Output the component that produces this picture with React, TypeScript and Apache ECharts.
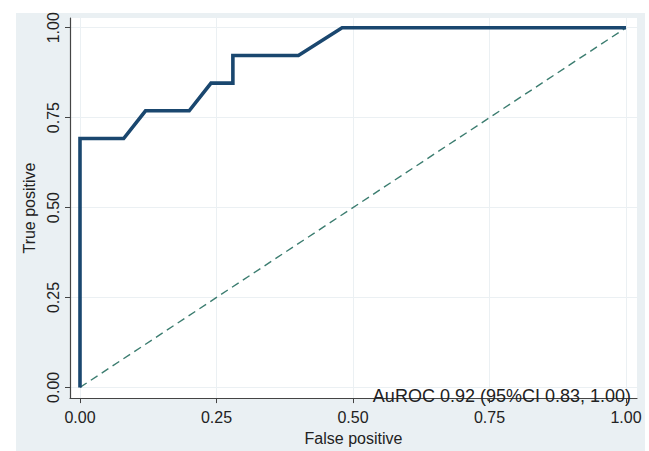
import React, { useEffect, useRef } from "react";
import * as echarts from "echarts";

const rocFpr = [0, 0, 0.08, 0.12, 0.2, 0.24, 0.28, 0.28, 0.4, 0.48, 1];
const rocTpr = [0, 0.692, 0.692, 0.769, 0.769, 0.846, 0.846, 0.923, 0.923, 1, 1];
const refLine = [0, 1];
const tickValues = [0, 0.25, 0.5, 0.75, 1];
const xTitle = "False positive";
const yTitle = "True positive";
const aucText = "AuROC 0.92 (95%CI 0.83, 1.00)";

export default function App() {
  const ref = useRef<HTMLDivElement>(null);
  useEffect(() => {
    document.body.style.margin = "0";
    const chart = echarts.init(ref.current!, null, { renderer: "svg" });
    const font = "Liberation Sans, Arial, sans-serif";
    const axisCommon = {
      type: "value" as const,
      axisLine: { show: true, onZero: false, lineStyle: { color: "#444", width: 1.2 } },
      axisTick: { show: true, length: 5, inside: false, customValues: tickValues, lineStyle: { color: "#444" } },
      splitLine: { show: true, lineStyle: { color: "#ebf0f3", width: 1 } },
      nameTextStyle: { color: "#222", fontSize: 16, fontFamily: font },
    };
    chart.setOption({
      animation: false,
      backgroundColor: "#ffffff",
      graphic: [
        { type: "rect", z: -10, shape: { x: 16, y: 13, width: 629, height: 438 }, style: { fill: "#eaf0f3" }, silent: true },
        {
          type: "text",
          z: 10,
          style: {
            text: aucText,
            x: 631,
            y: 396,
            align: "right",
            verticalAlign: "middle",
            fill: "#222",
            fontSize: 18,
            fontFamily: font,
          },
        },
      ],
      grid: { left: 70, right: 12, top: 18, bottom: 43, show: true, backgroundColor: "#ffffff", borderWidth: 0 },
      xAxis: {
        ...axisCommon,
        min: -0.0183,
        max: 1.0201,
        name: xTitle,
        nameLocation: "middle",
        nameGap: 27,
        axisLabel: {
          customValues: tickValues,
          formatter: (v: number) => v.toFixed(2),
          color: "#222",
          fontSize: 16,
          fontFamily: font,
          margin: 11,
        },
      },
      yAxis: {
        ...axisCommon,
        min: -0.0298,
        max: 1.0271,
        name: yTitle,
        nameLocation: "middle",
        nameGap: 28,
        axisLabel: {
          customValues: tickValues,
          formatter: (v: number) => v.toFixed(2),
          color: "#222",
          fontSize: 16,
          fontFamily: font,
          rotate: 90,
          margin: 9,
        },
      },
      series: [
        {
          type: "line",
          data: refLine.map((v) => [v, v]),
          symbol: "none",
          lineStyle: { color: "#3c7d70", width: 1.4, type: [8, 5] },
          z: 2,
        },
        {
          type: "line",
          data: rocFpr.map((x, i) => [x, rocTpr[i]]),
          symbol: "none",
          lineStyle: { color: "#1a476f", width: 3.6, join: "miter" },
          z: 3,
        },
      ],
    });
    return () => chart.dispose();
  }, []);
  return <div ref={ref} style={{ width: 649, height: 451, position: "absolute", left: 0, top: 0 }} />;
}
